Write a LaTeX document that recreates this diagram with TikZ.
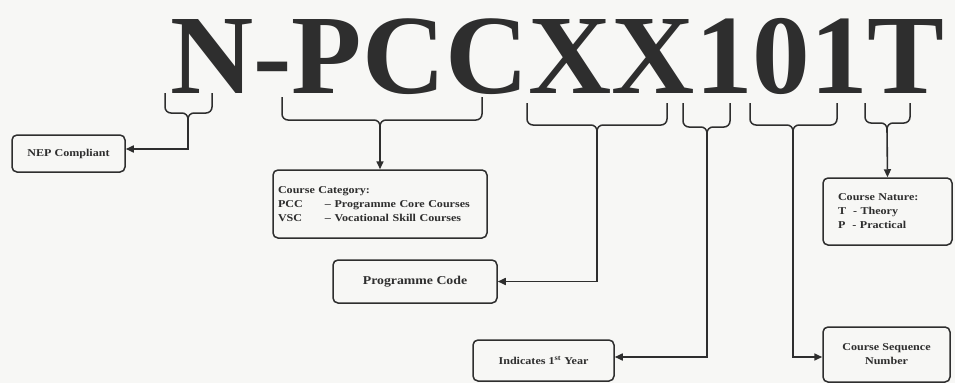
\documentclass[tikz,border=0pt]{standalone}
\usepackage{fontspec}
\setmainfont{Liberation Serif}
\newfontfamily\bxfont{Liberation Serif}[FakeStretch=1.15]
\newfontfamily\ttlfont{Liberation Serif}[FakeStretch=1.02]
\usetikzlibrary{arrows.meta}
\definecolor{ink}{HTML}{2E2E2E}
\definecolor{paper}{HTML}{F7F7F5}
\newcommand\codebrace[6]{%
  \draw[brc] (#1,#3) -- (#1,#4-6) to[out=-90,in=180] (#1+6,#4) -- (#5-6,#4) to[out=0,in=90] (#5,#4+6);
  \draw[brc] (#2,#3) -- (#2,#4-6) to[out=-90,in=0] (#2-6,#4) -- (#5+6,#4) to[out=180,in=90] (#5,#4+6);
  \coordinate (#6) at (#5,#4+6);}
\begin{document}
\begin{tikzpicture}[x=1pt,y=-1pt,
  brc/.style={draw=ink, line width=1.5pt},
  conn/.style={draw=ink, line width=1.6pt, -{Triangle[length=8pt,width=7pt]}},
  infobox/.style={draw=ink, line width=1.5pt, rounded corners=5pt, fill=paper,
    text=ink, font=\bxfont\bfseries\fontsize{10.5}{14}\selectfont, inner sep=0pt},
  title/.style={text=ink, inner sep=0pt, font=\ttlfont\bfseries\fontsize{113}{113}\selectfont}]
\fill[paper] (0,0) rectangle (955,383);
\useasboundingbox (0,0) rectangle (955,383);

\node[title, anchor=base west] (code) at (170,93) {N-PCCXX101T};

% boxes
\node[infobox, minimum width=113pt, minimum height=37pt] (nep) at (68.5,153.5) {NEP Compliant};
\node[infobox, minimum width=214pt, minimum height=68pt, align=left, text width=204pt, inner xsep=5pt] (cat) at (380,204)
  {Course Category:\\
   \makebox[47pt][l]{PCC}– Programme Core Courses\\
   \makebox[47pt][l]{VSC}– Vocational Skill Courses};
\node[infobox, minimum width=164pt, minimum height=43pt, font=\bxfont\bfseries\fontsize{12}{14}\selectfont] (prog) at (415,281.5) {Programme Code};
\node[infobox, minimum width=141pt, minimum height=41pt] (ind) at (543.5,360.5) {Indicates 1\textsuperscript{st} Year};
\node[infobox, minimum width=129pt, minimum height=67pt, align=left, text width=99pt, inner xsep=15pt] (nat) at (887.5,211.5)
  {Course Nature:\\ T \ - Theory\\ P \ - Practical};
\node[infobox, minimum width=127pt, minimum height=55pt, align=center] (csn) at (886.5,354.5)
  {Course Sequence\\ Number};

% braces
\codebrace{165}{212}{93}{113}{188}{bN}
\codebrace{282}{482}{97}{120}{380}{bP}
\codebrace{527}{667}{103}{125}{597}{bX}
\codebrace{683}{730}{103}{127}{707}{bY}
\codebrace{750}{837}{103}{125}{793}{bS}
\codebrace{865}{910}{103}{123}{887}{bT}

% connectors
\draw[conn] (bN) |- ([yshift=4.5pt]nep.east);
\draw[conn] (bP) -- (cat.north);
\draw[conn] (bX) |- (prog.east);
\draw[conn] (bY) |- ([yshift=3.5pt]ind.east);
\draw[conn] (bS) |- ([yshift=-2.5pt]csn.west);
\draw[conn] (bT) -- (nat.north);
\end{tikzpicture}
\end{document}
